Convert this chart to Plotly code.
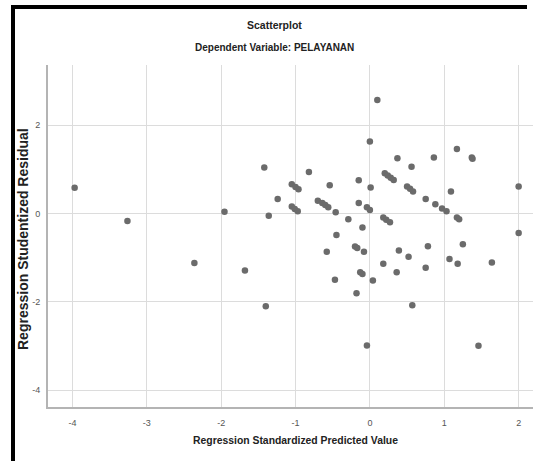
import plotly.graph_objects as go

# Regression Standardized Predicted Value
pred_values = [
    -3.97, -3.26, -2.36, -1.955, -1.68, -1.42, -1.36, -1.40, -1.24,
    -1.05, -1.00, -0.96, -1.05, -1.01, -0.97, -0.82, -0.70, -0.64, -0.60, -0.56,
    -0.54, -0.46, -0.29, -0.45, -0.10, -0.15, -0.15, -0.04, 0.00, 0.01, 0.00, 0.10,
    -0.20, -0.17, -0.08, -0.58, -0.47, -0.13, -0.10, 0.04, -0.18, -0.04,
    0.20, 0.24, 0.28, 0.32, 0.37, 0.56, 0.86, 1.17, 1.37, 1.38,
    0.50, 0.54, 0.58, 0.75, 0.88, 0.97, 1.03, 1.09, 2.00,
    0.18, 0.22, 0.27, 1.17, 1.20, 2.00,
    0.39, 0.78, 1.25, 0.52, 0.18, 0.36, 0.75, 1.07, 1.18, 1.64, 0.57, 1.46,
]
# Regression Studentized Residual
resid_values = [
    0.58, -0.17, -1.12, 0.04, -1.29, 1.04, -0.05, -2.10, 0.33,
    0.66, 0.60, 0.55, 0.16, 0.10, 0.05, 0.94, 0.29, 0.24, 0.19, 0.14,
    0.64, 0.03, -0.13, -0.49, -0.32, 0.75, 0.24, 0.14, 0.08, 0.59, 1.63, 2.57,
    -0.75, -0.78, -0.87, -0.87, -1.50, -1.33, -1.37, -1.52, -1.81, -2.99,
    0.91, 0.86, 0.81, 0.76, 1.25, 1.06, 1.27, 1.46, 1.27, 1.24,
    0.61, 0.56, 0.50, 0.33, 0.21, 0.11, 0.05, 0.50, 0.61,
    -0.09, -0.14, -0.20, -0.09, -0.13, -0.44,
    -0.84, -0.74, -0.70, -0.98, -1.14, -1.33, -1.23, -1.03, -1.14, -1.11, -2.08, -3.00,
]

x_ticks = [-4, -3, -2, -1, 0, 1, 2]
y_ticks = [-4, -2, 0, 2]

title_text = "Scatterplot"
subtitle_text = "Dependent Variable: PELAYANAN"
x_title = "Regression Standardized Predicted Value"
y_title = "Regression Studentized Residual"

W, H = 533, 461
L, R, T, B = 48, 0, 65, 54
pw, ph = W - L - R, H - T - B

def px(xp):
    return (xp - L) / pw

def py(yp):
    return (H - B - yp) / ph

sans = "Liberation Sans, Arial, sans-serif"

fig = go.Figure()
fig.add_trace(go.Scatter(
    x=pred_values, y=resid_values, mode="markers",
    marker=dict(size=6.5, color="#6b6b6b", line=dict(width=0)),
    hoverinfo="x+y", showlegend=False,
))

fig.update_layout(
    width=W, height=H,
    margin=dict(l=L, r=R, t=T, b=B, pad=0),
    paper_bgcolor="white", plot_bgcolor="white",
    xaxis=dict(
        range=[-4.328, 2.193], tickvals=x_ticks, ticktext=[str(v) for v in x_ticks],
        showgrid=True, gridcolor="#dcdcdc", gridwidth=1, zeroline=False,
        showline=True, linecolor="#b4b4b4", linewidth=2,
        ticks="", tickfont=dict(family=sans, size=9, color="#555555"),
        ticklabelstandoff=6,
    ),
    yaxis=dict(
        range=[-4.385, 3.364], tickvals=y_ticks, ticktext=[str(v) for v in y_ticks],
        showgrid=True, gridcolor="#dcdcdc", gridwidth=1, zeroline=False,
        showline=True, linecolor="#b4b4b4", linewidth=2,
        ticks="", tickfont=dict(family=sans, size=9, color="#555555"),
        ticklabelstandoff=4,
    ),
    annotations=[
        dict(text="<b>" + title_text + "</b>", xref="paper", yref="paper", x=px(274), y=py(25),
             showarrow=False, xanchor="center", yanchor="middle",
             font=dict(family=sans, size=10.5, color="#222222")),
        dict(text="<b>" + subtitle_text + "</b>", xref="paper", yref="paper", x=px(274), y=py(47),
             showarrow=False, xanchor="center", yanchor="middle",
             font=dict(family=sans, size=10, color="#222222")),
        dict(text="<b>" + x_title + "</b>", xref="paper", yref="paper", x=px(295), y=py(440),
             showarrow=False, xanchor="center", yanchor="middle",
             font=dict(family=sans, size=10.4, color="#222222")),
        dict(text="<b>" + y_title + "</b>", xref="paper", yref="paper", x=px(23), y=py(239),
             showarrow=False, xanchor="center", yanchor="middle", textangle=-90,
             font=dict(family=sans, size=14, color="#222222")),
    ],
    shapes=[
        dict(type="line", xref="paper", yref="paper", x0=px(13), x1=px(13), y0=py(H), y1=py(5),
             line=dict(color="black", width=4), layer="above"),
        dict(type="line", xref="paper", yref="paper", x0=px(11), x1=px(527), y0=py(7), y1=py(7),
             line=dict(color="black", width=4), layer="above"),
    ],
)

fig.write_html(
    "out.html",
    config={"displayModeBar": False},
    post_script="document.documentElement.style.overflow='hidden';document.body.style.margin='0';document.body.style.overflow='hidden';",
)
